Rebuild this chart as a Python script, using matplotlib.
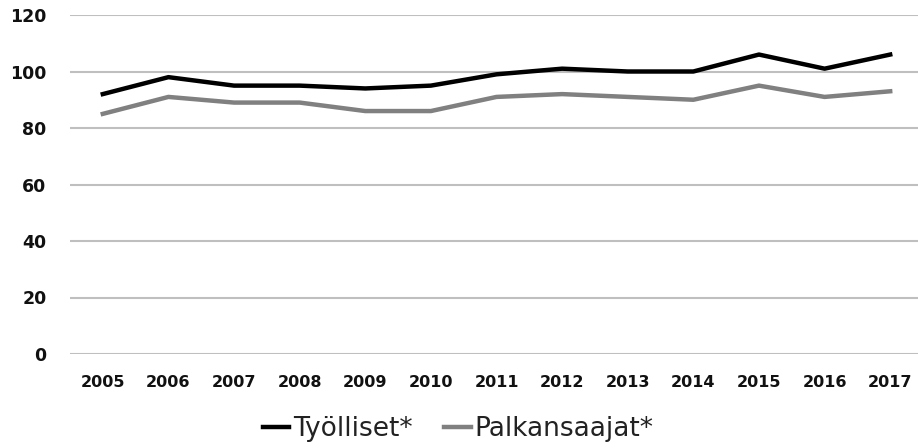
import matplotlib
matplotlib.use("Agg")
import matplotlib.pyplot as plt

years = ["2005", "2006", "2007", "2008", "2009", "2010", "2011", "2012",
         "2013", "2014", "2015", "2016", "2017"]
tyolliset = [92, 98, 95, 95, 94, 95, 99, 101, 100, 100, 106, 101, 106]
palkansaajat = [85, 91, 89, 89, 86, 86, 91, 92, 91, 90, 95, 91, 93]
yticks = [0, 20, 40, 60, 80, 100, 120]

plt.rcParams['font.family'] = ['DejaVu Sans']

fig = plt.figure(figsize=(9.18, 4.48), dpi=100)
ax = fig.add_axes([70/918, 1 - 354/448, (923 - 70)/918, (354 - 15)/448])

x = list(range(len(years)))
ax.plot(x, tyolliset, color="#000000", lw=3.2, label="Työlliset*")
ax.plot(x, palkansaajat, color="#808080", lw=3.2, label="Palkansaajat*")

ax.set_xlim(-0.5, len(years) - 0.5)
ax.set_ylim(0, 120)
ax.set_yticks(yticks)
ax.set_yticklabels([str(v) for v in yticks], fontsize=12.5, fontweight="bold")
ax.set_xticks(x)
ax.set_xticklabels(years, fontsize=11.5, fontweight="bold")
ax.tick_params(axis="both", length=0, colors="#111111")
ax.tick_params(axis="y", pad=17)
ax.tick_params(axis="x", pad=15)

ax.grid(axis="y", color="#bfbfbf", lw=1.5)
ax.set_axisbelow(True)
for s in ax.spines.values():
    s.set_visible(False)

leg = fig.legend(loc="center", bbox_to_anchor=(458/918, 1 - 429/448), ncol=2,
                 frameon=False, fontsize=19, handlelength=1.0, handletextpad=0.15,
                 columnspacing=1.2, borderpad=0, labelcolor="#222222")
for h in leg.get_lines():
    h.set_linewidth(3.2)

fig.savefig("out.png", dpi=100)
